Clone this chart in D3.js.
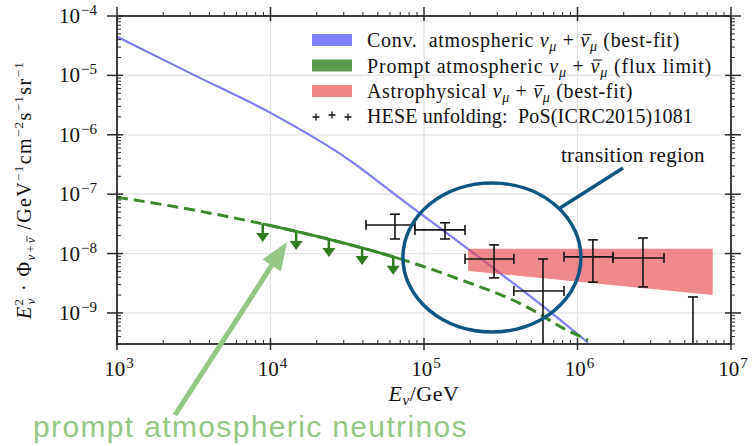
<!DOCTYPE html>
<html>
<head>
<meta charset="utf-8">
<script src="https://cdn.jsdelivr.net/npm/d3@7"></script>
<style>
  body { margin: 0; background: #fff; }
  svg text { font-family: "Liberation Serif", "DejaVu Serif", serif; fill: #111; }
</style>
</head>
<body>
<div id="display"></div>
<script>
// data (GeV, GeV^-1 cm^-2 s^-1 sr^-1)
var convE    = [1e3, 3.16e3, 1e4, 3.16e4, 7.24e4, 2.82e5, 6.6e5, 1.17e6];
var convFlux = [4.47e-5, 1.02e-5, 2.34e-6, 3.98e-7, 7.94e-8, 5.75e-9, 1.05e-9, 3.16e-10];

var promptE    = [1e3, 3.16e3, 8.9e3, 3.16e4, 7.6e4, 1.48e5, 5.1e5, 7.8e5, 1.17e6];
var promptFlux = [8.9e-8, 5.4e-8, 3.16e-8, 1.45e-8, 7.6e-9, 4.2e-9, 1.12e-9, 5.8e-10, 3.5e-10];
var promptSolidRange = [8.9e3, 6.9e4];
var limitE    = [8.9e3, 1.47e4, 2.4e4, 3.95e4, 6.3e4];
var limitFlux = [3.16e-8, 2.31e-8, 1.76e-8, 1.29e-8, 8.8e-9];

var astroE     = [1.94e5, 7.6e6];
var astroUpper = [1.2e-8, 1.2e-8];
var astroLower = [5.1e-9, 2.0e-9];

var heseE    = [6.47e4, 1.37e5, 2.86e5, 5.96e5, 1.26e6, 2.67e6, 5.65e6];
var heseElo  = [4.19e4, 8.73e4, 1.85e5, 3.85e5, 8.17e5, 1.70e6, null];
var heseEhi  = [8.73e4, 1.85e5, 3.85e5, 8.17e5, 1.70e6, 3.66e6, null];
var heseFlux = [3.03e-8, 2.5e-8, 8.1e-9, 2.34e-9, 8.8e-9, 8.4e-9, null];
var heseLo   = [1.76e-8, 1.76e-8, 3.9e-9, 0, 3.3e-9, 2.74e-9, 0];
var heseHi   = [4.6e-8, 3.3e-8, 1.4e-8, 8.1e-9, 1.7e-8, 1.83e-8, 1.86e-9];

var xTicks = [1e3, 1e4, 1e5, 1e6, 1e7];
var yTicks = [1e-9, 1e-8, 1e-7, 1e-6, 1e-5, 1e-4];

var margin = {top: 16, right: 25, bottom: 102, left: 117},
    width = 756 - margin.left - margin.right,
    height = 446 - margin.top - margin.bottom;

var svg = d3.select("#display").append("svg")
    .attr("width", 756).attr("height", 446);
var g = svg.append("g")
    .attr("transform", "translate(" + margin.left + "," + margin.top + ")");

var x = d3.scaleLog().domain([1e3, 1e7]).range([0, width]);
var y = d3.scaleLog().domain([3e-10, 1e-4]).range([height, 0]);

// stretch text to the width it has in the original
function fit(sel, target) {
  var node = sel.node();
  var w = node.getComputedTextLength();
  var n = node.getNumberOfChars();
  sel.attr("letter-spacing", ((target - w) / n).toFixed(2));
}

// draw a bar over every tspan marked .bar (nu-bar)
function addBars(sel, parent, fs) {
  var node = sel.node(), idx = 0;
  sel.selectAll("tspan").each(function() {
    if (d3.select(this).classed("bar")) {
      var a = node.getStartPositionOfChar(idx), b = node.getEndPositionOfChar(idx);
      var w = Math.min(b.x - a.x, fs * 0.5);
      parent.append("line").attr("x1", a.x + fs * 0.12).attr("x2", a.x + w + fs * 0.08)
        .attr("y1", a.y - fs * 0.62).attr("y2", a.y - fs * 0.62)
        .attr("stroke", "#111").attr("stroke-width", Math.max(0.8, fs * 0.055));
    }
    idx += this.textContent.length;
  });
}

g.append("clipPath").attr("id", "plotclip")
  .append("rect").attr("width", width).attr("height", height);

// grid
g.selectAll(".gx").data(xTicks.slice(1, -1)).enter().append("line")
  .attr("x1", d => x(d)).attr("x2", d => x(d)).attr("y1", 0).attr("y2", height)
  .attr("stroke", "#e3e3e3").attr("stroke-width", 1.2);
g.selectAll(".gy").data(yTicks.slice(0, -1)).enter().append("line")
  .attr("y1", d => y(d)).attr("y2", d => y(d)).attr("x1", 0).attr("x2", width)
  .attr("stroke", "#e3e3e3").attr("stroke-width", 1.2);

var plot = g.append("g").attr("clip-path", "url(#plotclip)");
var line = d3.line().x(d => x(d[0])).y(d => y(d[1])).curve(d3.curveMonotoneX);

// conventional atmospheric
plot.append("path").datum(d3.zip(convE, convFlux))
  .attr("d", line).attr("fill", "none")
  .attr("stroke", "#7c7cf3").attr("stroke-width", 2.2);

// prompt atmospheric: dashed everywhere, solid in the sensitive range
var promptPts = d3.zip(promptE, promptFlux);
plot.append("path").datum(promptPts)
  .attr("d", line).attr("fill", "none")
  .attr("stroke", "#3a8a2b").attr("stroke-width", 3).attr("stroke-dasharray", "11,6");
g.append("clipPath").attr("id", "solidclip")
  .append("rect").attr("x", x(promptSolidRange[0])).attr("width", x(promptSolidRange[1]) - x(promptSolidRange[0]))
  .attr("y", 0).attr("height", height);
g.append("path").datum(promptPts)
  .attr("clip-path", "url(#solidclip)")
  .attr("d", line).attr("fill", "none")
  .attr("stroke", "#3a8a2b").attr("stroke-width", 2.8);

// upper-limit arrows
var arrows = g.selectAll(".ul").data(d3.zip(limitE, limitFlux)).enter().append("g")
  .attr("transform", d => "translate(" + x(d[0]) + "," + y(d[1]) + ")");
arrows.append("line").attr("y1", 0).attr("y2", 11)
  .attr("stroke", "#2f7d20").attr("stroke-width", 2.5);
arrows.append("path").attr("d", "M-6.5,9L6.5,9L0,18Z").attr("fill", "#2f7d20");

// astrophysical band
plot.append("path").datum(d3.zip(astroE, astroLower, astroUpper))
  .attr("d", d3.area().x(d => x(d[0])).y0(d => y(d[1])).y1(d => y(d[2])))
  .attr("fill", "#e8464a").attr("fill-opacity", 0.64);

// HESE unfolding error bars
function yy(v) { return v > 0 ? y(v) : height + 20; }
var hese = heseE.map((e, i) => ({e: e, elo: heseElo[i], ehi: heseEhi[i], f: heseFlux[i], lo: heseLo[i], hi: heseHi[i]}));
var eb = plot.selectAll(".eb").data(hese).enter().append("g")
  .attr("stroke", "#151515").attr("stroke-width", 1.6);
eb.append("line").attr("x1", d => x(d.e)).attr("x2", d => x(d.e))
  .attr("y1", d => yy(d.lo)).attr("y2", d => yy(d.hi));
eb.append("line").attr("x1", d => x(d.e) - 5).attr("x2", d => x(d.e) + 5)
  .attr("y1", d => yy(d.hi)).attr("y2", d => yy(d.hi));
eb.filter(d => d.lo > 0).append("line").attr("x1", d => x(d.e) - 5).attr("x2", d => x(d.e) + 5)
  .attr("y1", d => yy(d.lo)).attr("y2", d => yy(d.lo));
var ebx = eb.filter(d => d.f);
ebx.append("line").attr("x1", d => x(d.elo)).attr("x2", d => x(d.ehi))
  .attr("y1", d => y(d.f)).attr("y2", d => y(d.f));
ebx.append("line").attr("x1", d => x(d.elo)).attr("x2", d => x(d.elo))
  .attr("y1", d => y(d.f) - 5).attr("y2", d => y(d.f) + 5);
ebx.append("line").attr("x1", d => x(d.ehi)).attr("x2", d => x(d.ehi))
  .attr("y1", d => y(d.f) - 5).attr("y2", d => y(d.f) + 5);

// axes frame and ticks
var ax = "#2b2b2b";
g.append("rect").attr("width", width).attr("height", height)
  .attr("fill", "none").attr("stroke", ax).attr("stroke-width", 1.8);
var minorX = x.ticks().filter(d => xTicks.indexOf(d) < 0);
var minorY = y.ticks().filter(d => Math.abs(Math.log10(d) - Math.round(Math.log10(d))) > 1e-6);
var tk = g.append("g").attr("stroke", ax).attr("stroke-width", 1);
minorX.forEach(function(d) {
  tk.append("line").attr("x1", x(d)).attr("x2", x(d)).attr("y1", height).attr("y2", height - 4);
  tk.append("line").attr("x1", x(d)).attr("x2", x(d)).attr("y1", 0).attr("y2", -4);
});
minorY.forEach(function(d) {
  tk.append("line").attr("y1", y(d)).attr("y2", y(d)).attr("x1", 0).attr("x2", 4);
  tk.append("line").attr("y1", y(d)).attr("y2", y(d)).attr("x1", width).attr("x2", width + 4);
});
var tkM = g.append("g").attr("stroke", ax).attr("stroke-width", 1.5);
xTicks.forEach(function(d) {
  tkM.append("line").attr("x1", x(d)).attr("x2", x(d)).attr("y1", height - 6).attr("y2", height + 6);
  tkM.append("line").attr("x1", x(d)).attr("x2", x(d)).attr("y1", -9).attr("y2", 5);
});
yTicks.forEach(function(d) {
  tkM.append("line").attr("y1", y(d)).attr("y2", y(d)).attr("x1", -10).attr("x2", 6);
  tkM.append("line").attr("y1", y(d)).attr("y2", y(d)).attr("x1", width - 6).attr("x2", width + 10);
});

function powLabel(sel, d) {
  var p = Math.round(Math.log10(d));
  sel.append("tspan").text("10");
  sel.append("tspan").attr("dy", -8).attr("dx", 1).attr("font-size", 15).text(p < 0 ? "\u2212" + (-p) : p);
}
g.selectAll(".xl").data(xTicks).enter().append("text")
  .attr("x", d => x(d) + 2).attr("y", height + 32).attr("text-anchor", "middle")
  .attr("font-size", 21).each(function(d) { powLabel(d3.select(this), d); });
g.selectAll(".yl").data(yTicks).enter().append("text")
  .attr("x", -20).attr("y", d => y(d) + 7).attr("text-anchor", "end")
  .attr("font-size", 21).each(function(d) { powLabel(d3.select(this), d); });

// axis titles
var xt = svg.append("text").attr("x", 424).attr("y", 401).attr("text-anchor", "middle")
  .attr("font-size", 22).attr("letter-spacing", 0.5);
xt.append("tspan").attr("font-style", "italic").text("E");
xt.append("tspan").attr("font-style", "italic").attr("font-size", 15).attr("dy", 4).text("\u03bd");
xt.append("tspan").attr("dy", -4).text("/GeV");

var ytg = svg.append("g").attr("transform", "translate(31,190) rotate(-90)");
var yt = ytg.append("text").attr("text-anchor", "middle").attr("font-size", 20);
yt.append("tspan").attr("font-style", "italic").text("E");
yt.append("tspan").attr("font-size", 13).attr("dy", -8).text("2");
yt.append("tspan").attr("font-size", 13).attr("font-style", "italic").attr("dx", -7).attr("dy", 12).text("\u03bd");
yt.append("tspan").attr("dy", -4).text(" \u00b7 \u03a6");
yt.append("tspan").attr("font-size", 13).attr("font-style", "italic").attr("dy", 4).text("\u03bd+");
yt.append("tspan").attr("font-size", 13).attr("font-style", "italic").attr("class", "bar").text("\u03bd");
yt.append("tspan").attr("dy", -4).text(" /GeV");
yt.append("tspan").attr("font-size", 13).attr("dy", -8).text("\u22121");
yt.append("tspan").attr("dy", 8).text("cm");
yt.append("tspan").attr("font-size", 13).attr("dy", -8).text("\u22122");
yt.append("tspan").attr("dy", 8).text("s");
yt.append("tspan").attr("font-size", 13).attr("dy", -8).text("\u22121");
yt.append("tspan").attr("dy", 8).text("sr");
yt.append("tspan").attr("font-size", 13).attr("dy", -8).text("\u22121");
fit(yt, 265);
addBars(yt, ytg, 13);

// legend
var legendColors = ["#8080f6", "#5b9c4c", "#ef8787"];
var legendText = [
  ["Conv.\u00a0 atmospheric ", " (best-fit)"],
  ["Prompt atmospheric ", " (flux limit)"],
  ["Astrophysical ", " (best-fit)"],
];
var legendWidth = [313, 345, 266];
var lg = svg.append("g");
legendText.forEach(function(t, i) {
  var cy = 40 + i * 25.5;
  lg.append("rect").attr("x", 312).attr("y", cy - 6).attr("width", 40).attr("height", 12).attr("fill", legendColors[i]);
  var tx = lg.append("text").attr("x", 367).attr("y", cy + 7).attr("font-size", 20);
  tx.append("tspan").text(t[0]);
  tx.append("tspan").attr("font-style", "italic").text("\u03bd");
  tx.append("tspan").attr("font-style", "italic").attr("font-size", 14).attr("dy", 4).text("\u03bc");
  tx.append("tspan").attr("dy", -4).text(" + ");
  tx.append("tspan").attr("font-style", "italic").attr("class", "bar").text("\u03bd");
  tx.append("tspan").attr("font-style", "italic").attr("font-size", 14).attr("dy", 4).text("\u03bc");
  tx.append("tspan").attr("dy", -4).text(t[1]);
  fit(tx, legendWidth[i]);
  addBars(tx, lg, 20);
});
[316, 332, 348].forEach(function(px, i) {
  var py = 117 - (i === 1 ? 2 : 0);
  lg.append("path").attr("d", "M" + (px - 3.5) + "," + py + "h7M" + px + "," + (py - 3.5) + "v7")
    .attr("stroke", "#111").attr("stroke-width", 1.3);
});
var hx = lg.append("text").attr("x", 367).attr("y", 123).attr("font-size", 20).text("HESE unfolding:\u00a0 PoS(ICRC2015)1081");
fit(hx, 326);

// transition region annotation
var ell = {e: 2.77e5, f: 8.6e-9, rx: 89, ry: 74.5};
g.append("ellipse").attr("cx", x(ell.e)).attr("cy", y(ell.f)).attr("rx", ell.rx).attr("ry", ell.ry)
  .attr("fill", "none").attr("stroke", "#0d5582").attr("stroke-width", 3.5);
g.append("line").attr("x1", x(7.7e5)).attr("y1", y(5.86e-8)).attr("x2", x(1.98e6)).attr("y2", y(2.76e-7))
  .attr("stroke", "#0d5582").attr("stroke-width", 3.5);
var tr = g.append("text").attr("x", x(7.8e5)).attr("y", y(3.5e-7)).attr("font-size", 21).text("transition region");
fit(tr, 144);

// prompt annotation arrow
var tail = [x(2.39e3), y(1.92e-11)], tip = [x(1.28e4), y(1.57e-8)];
var ang = Math.atan2(tip[1] - tail[1], tip[0] - tail[0]) * 180 / Math.PI;
var len = Math.hypot(tip[0] - tail[0], tip[1] - tail[1]);
var arr = g.append("g").attr("transform", "translate(" + tail[0] + "," + tail[1] + ") rotate(" + ang + ")");
arr.append("line").attr("x1", 0).attr("x2", len - 20).attr("stroke", "#93c783").attr("stroke-width", 5);
arr.append("path").attr("d", "M" + len + ",0L" + (len - 28) + ",-11L" + (len - 28) + ",11Z").attr("fill", "#93c783");
var pt = svg.append("text").attr("x", 33).attr("y", 437).attr("font-size", 30)
  .style("font-family", "'Liberation Sans', Arial, sans-serif").style("fill", "#93c783")
  .text("prompt atmospheric neutrinos");
fit(pt, 435);
</script>
</body>
</html>
